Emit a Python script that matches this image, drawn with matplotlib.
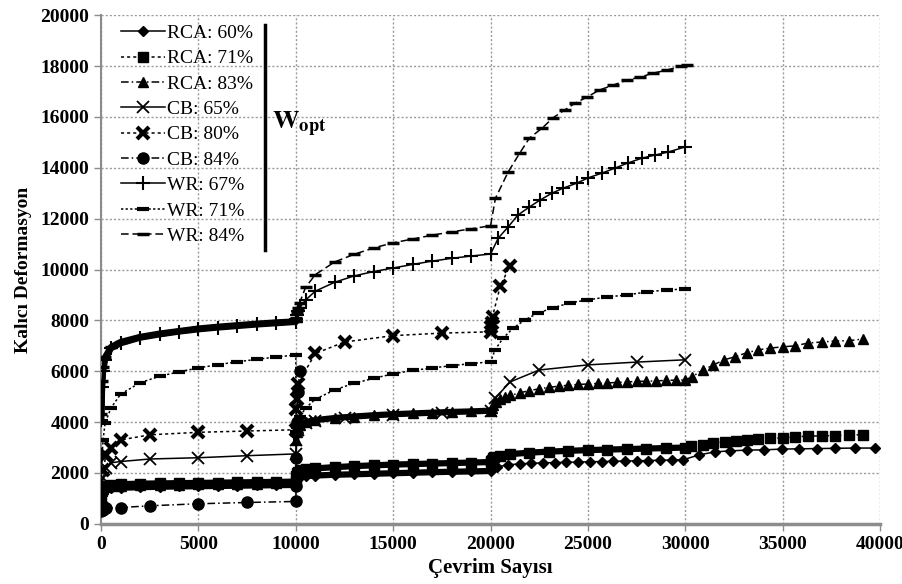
import matplotlib
matplotlib.use('Agg')
import matplotlib.pyplot as plt
from matplotlib.lines import Line2D

plt.rcParams['font.family'] = ['Liberation Serif', 'DejaVu Serif']
plt.rcParams['mathtext.fontset'] = 'stix'

# cycle counts shared by densely sampled stages
CYC_S1 = [10, 50, 100, 200, 500, 1000, 2000, 3000, 4000, 5000, 6000, 7000, 8000, 9000, 10000]
CYC_S2 = [10010, 10050, 10100, 10200, 10500, 11000, 12000, 13000, 14000, 15000, 16000, 17000, 18000, 19000, 20000]
CYC_S3 = [20010, 20050, 20100, 20200, 20500, 21000, 22000, 23000, 24000, 25000, 26000, 27000, 28000, 29000, 30000]
CYC_SPARSE = [0, 100, 250, 500, 1000, 2500, 5000, 7500, 10000]

# RCA: 60%
RCA60_S1 = [950, 1200, 1300, 1350, 1400, 1420, 1440, 1460, 1470, 1480, 1490, 1500, 1510, 1520, 1530]
RCA60_S2 = [1700, 1780, 1820, 1850, 1880, 1900, 1930, 1950, 1970, 1990, 2010, 2030, 2050, 2060, 2080]
RCA60_S3_N = [20330, 20900, 21500, 22100, 22700, 23300, 23900, 24500, 25100, 25700, 26300, 26900,
              27500, 28100, 28700, 29300, 29900]
RCA60_S3 = [2240, 2320, 2360, 2380, 2400, 2410, 2420, 2430, 2440, 2450, 2460, 2470, 2480, 2490, 2500, 2510, 2520]
RCA60_S4_N = [30700, 31530, 32300, 33170, 34050, 34960, 35840, 36770, 37690, 38720, 39750]
RCA60_S4 = [2710, 2830, 2870, 2900, 2910, 2940, 2950, 2960, 2970, 2980, 2980]

# RCA: 71%
RCA71_S1 = [1100, 1350, 1450, 1500, 1540, 1560, 1580, 1590, 1600, 1610, 1620, 1630, 1640, 1650, 1660]
RCA71_S2 = [1900, 2000, 2050, 2100, 2150, 2180, 2230, 2270, 2300, 2330, 2350, 2370, 2390, 2410, 2430]
RCA71_S3 = [2480, 2530, 2580, 2620, 2680, 2740, 2800, 2840, 2870, 2900, 2920, 2940, 2960, 2980, 3000]
RCA71_S4_N = [30300, 30900, 31450, 32050, 32600, 33150, 33750, 34350, 35000, 35650, 36300, 37000, 37700,
              38400, 39150]
RCA71_S4 = [3050, 3100, 3180, 3230, 3260, 3300, 3340, 3370, 3380, 3420, 3450, 3460, 3470, 3500, 3500]

# RCA: 83%
RCA83_S1 = [1000, 1300, 1380, 1430, 1470, 1490, 1510, 1530, 1540, 1550, 1560, 1570, 1580, 1590, 1600]
RCA83_S2 = [3300, 3600, 3750, 3900, 4000, 4080, 4160, 4220, 4270, 4310, 4340, 4370, 4400, 4420, 4450]
RCA83_S3_N = [20050, 20150, 20300, 20500, 20750, 21000, 21500, 22000, 22500, 23000, 23500, 24000, 24500,
              25000, 25500, 26000, 26500, 27000, 27500, 28000, 28500, 29000, 29500, 30000]
RCA83_S3 = [4550, 4680, 4800, 4900, 4980, 5050, 5150, 5240, 5310, 5370, 5410, 5450, 5480, 5500, 5520,
            5540, 5560, 5580, 5600, 5610, 5620, 5640, 5650, 5660]
RCA83_S4_N = [30350, 30900, 31450, 32000, 32560, 33170, 33760, 34350, 35020, 35640, 36310, 37020, 37690,
              38410, 39130]
RCA83_S4 = [5780, 6050, 6250, 6450, 6570, 6730, 6840, 6910, 6960, 7000, 7110, 7150, 7190, 7200, 7270]

# CB: 65%
CB65_S1 = [900, 1800, 2200, 2400, 2450, 2550, 2600, 2680, 2750]
CB65_S2_N = [10020, 10100, 10500, 11000, 12500, 15000, 17500, 20000]
CB65_S2 = [3300, 3700, 3950, 4050, 4150, 4280, 4350, 4420]
CB65_S3_N = [20250, 21000, 22500, 25000, 27500, 30000]
CB65_S3 = [4950, 5580, 6050, 6250, 6360, 6450]

# CB: 80%
CB80_S1 = [1000, 2100, 2700, 3000, 3300, 3500, 3600, 3650, 3700]
CB80_S2_N = [10020, 10050, 10100, 11000, 12500, 15000, 17500, 20000]
CB80_S2 = [4500, 4900, 5500, 6700, 7150, 7400, 7500, 7550]
CB80_S3_N = [20020, 20050, 20100, 20500, 21000]
CB80_S3 = [7750, 7900, 8150, 9350, 10150]

# CB: 84%
CB84_S1_N = [0, 100, 250, 1000, 2500, 5000, 7500, 10000]
CB84_S1 = [520, 560, 610, 640, 710, 790, 840, 880]
CB84_S2_N = [10010, 10020, 10050, 10100, 10200]
CB84_S2 = [1500, 2600, 4000, 5200, 6000]

# WR: 67%
WR67_S1 = [4100, 5400, 6000, 6450, 6900, 7100, 7320, 7450, 7560, 7650, 7720, 7780, 7840, 7890, 7940]
WR67_S2 = [8050, 8200, 8350, 8500, 8800, 9150, 9500, 9750, 9920, 10060, 10200, 10330, 10440, 10530, 10610]
WR67_S3_N = [20400, 20900, 21400, 22000, 22540, 23150, 23730, 24440, 25000, 25720, 26400, 27060, 27780,
             28450, 29120, 30000]
WR67_S3 = [11240, 11670, 12140, 12460, 12730, 13000, 13200, 13400, 13600, 13790, 13990, 14190, 14380,
           14500, 14620, 14820]

# WR: 71%
WR71_S1 = [1500, 2700, 3300, 3950, 4550, 5100, 5550, 5800, 5980, 6130, 6260, 6370, 6470, 6560, 6640]
WR71_S2 = [3600, 3800, 3950, 4200, 4550, 4900, 5270, 5530, 5720, 5900, 6030, 6130, 6220, 6300, 6370]
WR71_S3_N = [20230, 20650, 21170, 21770, 22440, 23200, 24080, 24950, 25980, 27000, 28040, 29060, 30000]
WR71_S3 = [6840, 7310, 7700, 8020, 8290, 8490, 8690, 8800, 8920, 9000, 9120, 9200, 9230]

# WR: 84%
WR84_S1 = [4300, 5600, 6150, 6550, 6950, 7150, 7350, 7480, 7580, 7680, 7750, 7810, 7870, 7920, 7960]
WR84_S2 = [8100, 8300, 8500, 8700, 9300, 9800, 10300, 10600, 10850, 11050, 11200, 11350, 11480, 11600, 11720]
WR84_S3_N = [20250, 20900, 21500, 22000, 22650, 23200, 23800, 24350, 24950, 25600, 26300, 27000, 27700,
             28350, 29050, 29800, 30100]
WR84_S3 = [12800, 13830, 14580, 15170, 15560, 15960, 16270, 16540, 16780, 17060, 17250, 17450, 17570,
           17720, 17840, 18000, 18050]

# label, stages [(cycles, deformation, dense band?)], line style, marker, marker size, marker edge width
SERIES = [
    ('RCA: 60%', [(CYC_S1, RCA60_S1, True), (CYC_S2, RCA60_S2, True),
                  (RCA60_S3_N, RCA60_S3, False), (RCA60_S4_N, RCA60_S4, False)], '-', 'D', 5, 1),
    ('RCA: 71%', [(CYC_S1, RCA71_S1, True), (CYC_S2, RCA71_S2, True),
                  (CYC_S3, RCA71_S3, True), (RCA71_S4_N, RCA71_S4, False)], (0, (2, 2)), 's', 6.5, 1),
    ('RCA: 83%', [(CYC_S1, RCA83_S1, True), (CYC_S2, RCA83_S2, True),
                  (RCA83_S3_N, RCA83_S3, False), (RCA83_S4_N, RCA83_S4, False)], (0, (5, 2, 1, 2)), '^', 7, 1),
    ('CB: 65%', [(CYC_SPARSE, CB65_S1, False), (CB65_S2_N, CB65_S2, False),
                 (CB65_S3_N, CB65_S3, False)], '-', 'x', 8, 1.3),
    ('CB: 80%', [(CYC_SPARSE, CB80_S1, False), (CB80_S2_N, CB80_S2, False),
                 (CB80_S3_N, CB80_S3, False)], (0, (2, 2)), 'x', 8, 3),
    ('CB: 84%', [(CB84_S1_N, CB84_S1, False), (CB84_S2_N, CB84_S2, False)], (0, (5, 2, 1, 2)), 'o', 8, 1),
    ('WR: 67%', [(CYC_S1, WR67_S1, True), (CYC_S2, WR67_S2, False),
                 (WR67_S3_N, WR67_S3, False)], '-', '+', 10, 1.5),
    ('WR: 71%', [(CYC_S1, WR71_S1, False), (CYC_S2, WR71_S2, False),
                 (WR71_S3_N, WR71_S3, False)], (0, (1.5, 1.5)), '_', 9, 3),
    ('WR: 84%', [(CYC_S1, WR84_S1, True), (CYC_S2, WR84_S2, False),
                 (WR84_S3_N, WR84_S3, False)], (0, (5, 2.5)), '_', 9, 2.5),
]

fig = plt.figure(figsize=(9.03, 5.84), dpi=100)
ax = fig.add_axes([0.112, 0.103, 0.8625, 0.871])

handles = []
for label, stages, ls, mk, ms, mew in SERIES:
    xs, ys = [], []
    for cyc, vals, _ in stages:
        xs += cyc
        ys += vals
    line, = ax.plot(xs, ys, color='black', linestyle=ls, linewidth=1.1, marker=mk,
                    markersize=ms, markeredgewidth=mew, markerfacecolor='black',
                    markeredgecolor='black', zorder=3, label=label)
    handles.append(line)
    # dense measurement stages show up as a solid band of markers
    for cyc, vals, band in stages:
        if band:
            ax.plot(cyc, vals, color='black', linewidth=4.5, solid_capstyle='round', zorder=2)

ax.set_xlim(0, 40000)
ax.set_ylim(0, 20000)
ax.set_xticks(range(0, 40001, 5000))
ax.set_yticks(range(0, 20001, 2000))
ax.grid(True, color='#9a9a9a', linestyle=(0, (1.5, 1.5)), linewidth=1)
ax.set_axisbelow(True)
for side in ['top', 'right']:
    ax.spines[side].set_visible(False)
ax.spines['left'].set_color('#8c8c8c')
ax.spines['left'].set_linewidth(1.5)
ax.spines['bottom'].set_color('#8c8c8c')
ax.spines['bottom'].set_linewidth(2.5)
ax.tick_params(axis='both', colors='#8c8c8c', length=5, width=1, labelcolor='black', labelsize=14)
for lab in ax.get_xticklabels() + ax.get_yticklabels():
    lab.set_fontweight('bold')

ax.set_xlabel('Çevrim Sayısı', fontsize=15, fontweight='bold', labelpad=4)
ax.set_ylabel('Kalıcı Deformasyon', fontsize=14, fontweight='bold', labelpad=6)

ax.legend(handles=handles, loc='upper left', bbox_to_anchor=(0.01, 1.005), frameon=False,
          prop={'family': 'Liberation Serif', 'size': 14}, handlelength=2.3, handletextpad=0.1,
          labelspacing=0.4, borderaxespad=0.2)

ax.add_line(Line2D([0.2105, 0.2105], [0.538, 0.98], transform=ax.transAxes, color='black',
                   linewidth=2.5, zorder=5))
ax.text(0.219, 0.785, r'$\mathbf{W}_{\mathbf{opt}}$', transform=ax.transAxes, fontsize=19,
        va='center', ha='left')

fig.savefig('out.png', dpi=100)
